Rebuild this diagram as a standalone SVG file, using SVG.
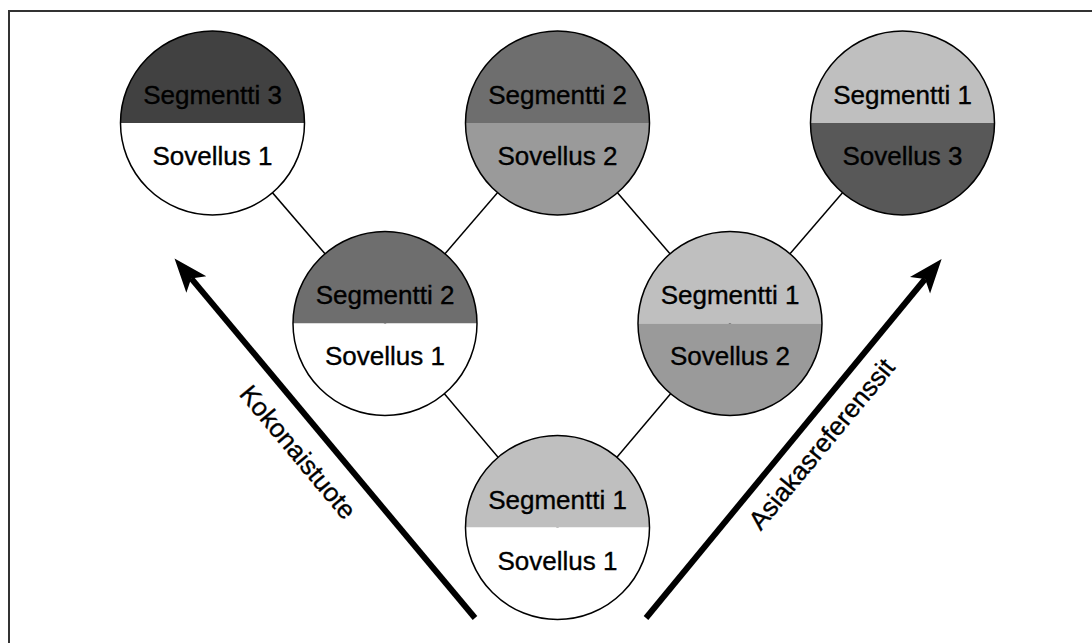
<svg xmlns="http://www.w3.org/2000/svg" width="1092" height="643" viewBox="0 0 1092 643">
  <style>
    .frame { fill: none; stroke: #333333; stroke-width: 2; }
    .conn { stroke: #000000; stroke-width: 1.5; fill: none; }
    .outline { fill: none; stroke: #000000; stroke-width: 1.5; }
    .lbl { font-family: "Liberation Sans", Arial, Helvetica, sans-serif; font-size: 26px; fill: #000000; stroke: #000000; stroke-width: 0.35; text-anchor: middle; }
    .big { stroke: #000000; stroke-width: 6; stroke-linecap: butt; fill: none; marker-end: url(#head); }
    .w { fill: #ffffff; }
    .c1 { fill: #bfbfbf; }
    .c2 { fill: #6e6e6e; }
    .c3 { fill: #414141; }
    .s2 { fill: #9a9a9a; }
    .s3 { fill: #585858; }
  </style>
  <defs>
    <marker id="head" markerUnits="userSpaceOnUse" orient="auto" markerWidth="40" markerHeight="30" viewBox="-10 -15 40 30" refX="0" refY="0" overflow="visible">
      <path d="M26,0 L-8,-13 L0,0 L-8,13 Z" fill="#000000"/>
    </marker>
  </defs>
  <rect width="1092" height="643" fill="#ffffff"/>
  <path class="frame" d="M9,643 L9,11 L1092,11"/>

  <g id="connectors">
    <line class="conn" x1="212.5" y1="123" x2="385" y2="323.5"/>
    <line class="conn" x1="557.5" y1="123" x2="385" y2="323.5"/>
    <line class="conn" x1="557.5" y1="123" x2="730" y2="323.5"/>
    <line class="conn" x1="902.5" y1="123" x2="730" y2="323.5"/>
    <line class="conn" x1="385" y1="323.5" x2="557.5" y2="527.5"/>
    <line class="conn" x1="730" y1="323.5" x2="557.5" y2="527.5"/>
  </g>

  <g id="node-top-left">
    <path class="c3" d="M120.5,123 A92,92 0 0 1 304.5,123 Z"/>
    <path class="w" d="M120.5,123 A92,92 0 0 0 304.5,123 Z"/>
    <circle class="outline" cx="212.5" cy="123" r="92"/>
    <text class="lbl" x="212.5" y="103.5">Segmentti 3</text>
    <text class="lbl" x="212.5" y="164.5">Sovellus 1</text>
  </g>

  <g id="node-top-center">
    <path class="c2" d="M465.5,123 A92,92 0 0 1 649.5,123 Z"/>
    <path class="s2" d="M465.5,123 A92,92 0 0 0 649.5,123 Z"/>
    <circle class="outline" cx="557.5" cy="123" r="92"/>
    <text class="lbl" x="557.5" y="103.5">Segmentti 2</text>
    <text class="lbl" x="557.5" y="164.5">Sovellus 2</text>
  </g>

  <g id="node-top-right">
    <path class="c1" d="M810.5,123 A92,92 0 0 1 994.5,123 Z"/>
    <path class="s3" d="M810.5,123 A92,92 0 0 0 994.5,123 Z"/>
    <circle class="outline" cx="902.5" cy="123" r="92"/>
    <text class="lbl" x="902.5" y="103.5">Segmentti 1</text>
    <text class="lbl" x="902.5" y="164.5">Sovellus 3</text>
  </g>

  <g id="node-mid-left">
    <path class="c2" d="M293,323.5 A92,92 0 0 1 477,323.5 Z"/>
    <path class="w" d="M293,323.5 A92,92 0 0 0 477,323.5 Z"/>
    <circle class="outline" cx="385" cy="323.5" r="92"/>
    <text class="lbl" x="385" y="304">Segmentti 2</text>
    <text class="lbl" x="385" y="365">Sovellus 1</text>
  </g>

  <g id="node-mid-right">
    <path class="c1" d="M638,323.5 A92,92 0 0 1 822,323.5 Z"/>
    <path class="s2" d="M638,323.5 A92,92 0 0 0 822,323.5 Z"/>
    <circle class="outline" cx="730" cy="323.5" r="92"/>
    <text class="lbl" x="730" y="304">Segmentti 1</text>
    <text class="lbl" x="730" y="365">Sovellus 2</text>
  </g>

  <g id="node-bottom">
    <path class="c1" d="M465.5,527.5 A92,92 0 0 1 649.5,527.5 Z"/>
    <path class="w" d="M465.5,527.5 A92,92 0 0 0 649.5,527.5 Z"/>
    <circle class="outline" cx="557.5" cy="527.5" r="92"/>
    <text class="lbl" x="557.5" y="509">Segmentti 1</text>
    <text class="lbl" x="557.5" y="569.5">Sovellus 1</text>
  </g>

  <g id="arrow-left">
    <line class="big" x1="475" y1="618" x2="191.2" y2="278.4"/>
    <text class="lbl" transform="translate(298,452) rotate(50.1)" x="0" y="9">Kokonaistuote</text>
  </g>

  <g id="arrow-right">
    <line class="big" x1="646" y1="618" x2="925.1" y2="279"/>
    <text class="lbl" transform="translate(821.5,444) rotate(-50.4)" x="0" y="9">Asiakasreferenssit</text>
  </g>
</svg>
